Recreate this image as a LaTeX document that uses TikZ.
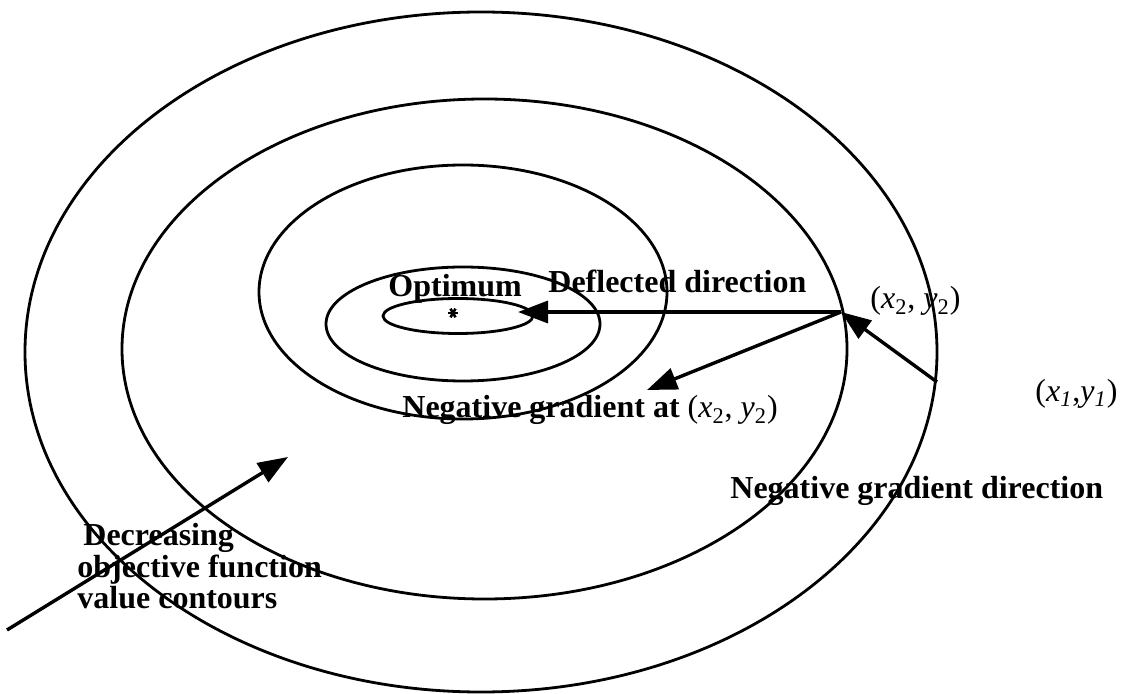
\documentclass[tikz,border=0pt]{standalone}
\usepackage{fontspec}
\setmainfont{Liberation Serif}
\usetikzlibrary{arrows.meta}
\begin{document}
\begin{tikzpicture}[x=0.5pt,y=-0.5pt,
  contour/.style={line width=1.4pt},
  vec/.style={line width=1.7pt,-{Triangle[length=15pt,width=11pt]}},
  lbl/.style={font=\fontsize{16}{18}\selectfont\bfseries,inner sep=0pt,anchor=base west},
  mlbl/.style={font=\fontsize{16}{18}\selectfont,inner sep=0pt,anchor=base west}]
\useasboundingbox (0,0) rectangle (1128,694);
% contours
\draw[contour] (481,352) ellipse [x radius=228pt, y radius=170pt];
\draw[contour] (484.5,349) ellipse [x radius=181.25pt, y radius=125pt];
\draw[contour] (463,292) ellipse [x radius=102pt, y radius=63.5pt];
\draw[contour] (463,324) ellipse [x radius=68.5pt, y radius=28.5pt];
\draw[contour] (458,316) ellipse [x radius=37.5pt, y radius=8.75pt];
% optimum star
\coordinate (opt) at (453,313);
\foreach \a in {0,60,120} \draw[line width=1.3pt,shift={(opt)}] (\a:5) -- (\a+180:5);
% points
\coordinate (P2) at (841,312);
\coordinate (P1) at (937,382);
\coordinate (T1) at (518,312);
\coordinate (T2) at (647,390);
\coordinate (D0) at (7,630);
\coordinate (D1) at (288,457);
% arrows
\draw[vec] (P2) -- (T1);
\draw[vec] (P2) -- (T2);
\draw[vec] (P1) -- (P2);
\draw[vec] (D0) -- (D1);
% labels
\node[lbl] (optlbl) at (388,297) {Optimum};
\node[lbl] (defl) at (548,293) {Deflected direction};
\node[mlbl] (pt2) at (870,309) {(\textit{x}\textsubscript{2}, \textit{y}\textsubscript{2})};
\node[mlbl] (pt1) at (1035,401) {(\textit{x}\textsubscript{\textit{1}},\textit{y}\textsubscript{\textit{1}})};
\node[lbl] (nga) at (402,418) {Negative gradient at \textnormal{(\textit{x}\textsubscript{2}, \textit{y}\textsubscript{2})}};
\node[lbl] (ngd) at (730,498) {Negative gradient direction};
\node[lbl] (dec1) at (83,545) {Decreasing};
\node[lbl] (dec2) at (77,577) {objective function};
\node[lbl] (dec3) at (77,608) {value contours};
\end{tikzpicture}
\end{document}
